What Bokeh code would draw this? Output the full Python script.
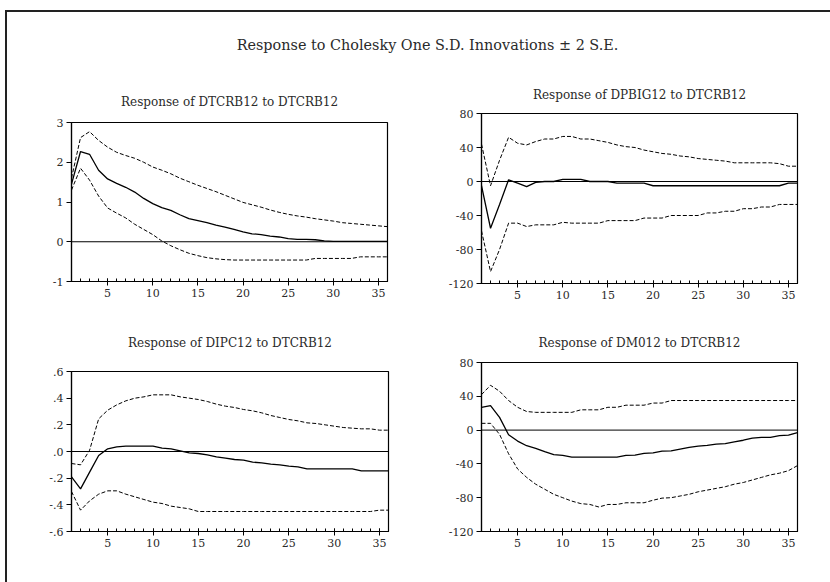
from bokeh.plotting import figure
from bokeh.models import (Range1d, FixedTicker, Span, Div, CustomJSTickFormatter,
                          InlineStyleSheet)
from bokeh.layouts import column, row
from bokeh.embed import file_html
from bokeh.resources import INLINE

periods = list(range(1, 37))
x_ticks = [5, 10, 15, 20, 25, 30, 35]

main_title = "Response to Cholesky One S.D. Innovations \u00b1 2 S.E."

# Panel 1: Response of DTCRB12 to DTCRB12
crb_title = "Response of DTCRB12 to DTCRB12"
crb_resp = [1.45, 2.27, 2.2, 1.8, 1.58, 1.47, 1.37, 1.25, 1.09, 0.96, 0.86, 0.79,
            0.68, 0.58, 0.53, 0.48, 0.42, 0.37, 0.31, 0.25, 0.2, 0.18, 0.14, 0.12,
            0.08, 0.06, 0.06, 0.05, 0.02, 0.01, 0.01, 0.01, 0.01, 0.01, 0.01, 0.01]
crb_upper = [1.6, 2.62, 2.77, 2.55, 2.38, 2.25, 2.17, 2.1, 2.0, 1.88, 1.8, 1.71,
             1.6, 1.51, 1.42, 1.34, 1.26, 1.17, 1.08, 0.99, 0.93, 0.87, 0.8, 0.74,
             0.69, 0.65, 0.62, 0.58, 0.55, 0.52, 0.48, 0.46, 0.44, 0.42, 0.4, 0.38]
crb_lower = [1.3, 1.85, 1.55, 1.15, 0.85, 0.72, 0.6, 0.44, 0.31, 0.18, 0.02, -0.1,
             -0.2, -0.29, -0.35, -0.4, -0.43, -0.45, -0.46, -0.46, -0.46, -0.46, -0.46, -0.46,
             -0.46, -0.46, -0.46, -0.42, -0.42, -0.42, -0.42, -0.42, -0.38, -0.38, -0.38, -0.38]
crb_yticks = [-1, 0, 1, 2, 3]

# Panel 2: Response of DPBIG12 to DTCRB12
pbig_title = "Response of DPBIG12 to DTCRB12"
pbig_resp = [-5, -55, -27, 2, -2, -6, -1, 0, 0, 2.5, 2.5, 2.5,
             0, 0, 0, -2, -2, -2, -2, -5, -5, -5, -5, -5,
             -5, -5, -5, -5, -5, -5, -5, -5, -5, -5, -2, -2]
pbig_upper = [44, -5, 25, 52, 45, 43, 47, 50, 50, 53, 53, 50,
              50, 48, 46, 43, 41, 40, 37, 35, 33, 32, 30, 29,
              27, 26, 25, 24, 22, 22, 22, 22, 22, 21, 18, 18]
pbig_lower = [-58, -106, -80, -49, -49, -53, -51, -51, -51, -48, -49, -49,
              -49, -49, -46, -46, -46, -46, -43, -43, -43, -40, -40, -40,
              -40, -37, -37, -35, -35, -32, -32, -30, -30, -27, -27, -27]
pbig_yticks = [-120, -80, -40, 0, 40, 80]

# Panel 3: Response of DIPC12 to DTCRB12
ipc_title = "Response of DIPC12 to DTCRB12"
ipc_resp = [-0.19, -0.28, -0.155, -0.03, 0.02, 0.035, 0.04, 0.04, 0.04, 0.04, 0.025, 0.02,
            0.005, -0.01, -0.015, -0.025, -0.04, -0.05, -0.06, -0.065, -0.08, -0.085, -0.095, -0.1,
            -0.11, -0.115, -0.13, -0.13, -0.13, -0.13, -0.13, -0.13, -0.145, -0.145, -0.145, -0.145]
ipc_upper = [-0.09, -0.1, 0.01, 0.245, 0.31, 0.35, 0.38, 0.4, 0.41, 0.425, 0.425, 0.425,
             0.41, 0.4, 0.39, 0.375, 0.355, 0.34, 0.33, 0.315, 0.305, 0.29, 0.27, 0.255,
             0.24, 0.23, 0.215, 0.21, 0.2, 0.19, 0.18, 0.175, 0.17, 0.17, 0.16, 0.16]
ipc_lower = [-0.3, -0.44, -0.37, -0.32, -0.295, -0.295, -0.32, -0.34, -0.36, -0.38, -0.39, -0.41,
             -0.42, -0.43, -0.45, -0.45, -0.45, -0.45, -0.45, -0.45, -0.45, -0.45, -0.45, -0.45,
             -0.45, -0.45, -0.45, -0.45, -0.45, -0.45, -0.45, -0.45, -0.45, -0.45, -0.44, -0.44]
ipc_yticks = [-0.6, -0.4, -0.2, 0.0, 0.2, 0.4, 0.6]

# Panel 4: Response of DM012 to DTCRB12
m0_title = "Response of DM012 to DTCRB12"
m0_resp = [27, 29, 15, -5.5, -13, -18.5, -21.5, -25.5, -29, -30, -32, -32,
           -32, -32, -32, -32, -30, -29.5, -27.5, -27, -25, -24.5, -22.5, -20.5,
           -19, -18, -16.5, -16, -14, -12, -9.5, -8.5, -8.5, -6.5, -6, -3]
m0_upper = [42, 53, 46, 35, 27, 22, 21, 21, 21, 21, 21, 24,
            24, 24, 27, 27, 29.5, 29.5, 29.5, 32, 32, 35, 35, 35,
            35, 35, 35, 35, 35, 35, 35, 35, 35, 35, 35, 35]
m0_lower = [8, 8, -5, -28, -46, -56, -64, -70, -76, -80, -84, -87,
            -88, -91, -88, -88, -86, -86, -86, -83, -80.5, -80, -78, -76,
            -73, -71, -69, -67, -64, -62, -59, -56, -53, -51, -48, -42]
m0_yticks = [-120, -80, -40, 0, 40, 80]

FONT = "DejaVu Serif"
TXT = "#2a2a2a"


def make_panel(title, resp, upper, lower, ylo, yhi, yticks, width, height,
               bl, br, bt, bb, standoff, decimal=False):
    p = figure(width=width, height=height, x_range=Range1d(1, 36),
               y_range=Range1d(ylo, yhi), output_backend="svg",
               toolbar_location=None, title=title,
               min_border_left=bl, min_border_right=br,
               min_border_top=bt, min_border_bottom=bb)
    p.title.align = "center"
    p.title.text_font = FONT
    p.title.text_font_style = "normal"
    p.title.text_font_size = "12px"
    p.title.text_color = TXT
    p.title.standoff = standoff
    p.xgrid.visible = False
    p.ygrid.visible = False
    p.outline_line_color = "black"
    p.outline_line_width = 1.2
    p.outline_line_alpha = 1
    p.background_fill_color = "white"
    p.border_fill_color = "white"

    p.xaxis.ticker = FixedTicker(ticks=x_ticks, minor_ticks=periods)
    p.xaxis.major_tick_in = 3
    p.xaxis.major_tick_out = 4
    p.xaxis.minor_tick_in = 3
    p.xaxis.minor_tick_out = 0
    p.yaxis.ticker = FixedTicker(ticks=yticks, minor_ticks=[])
    p.yaxis.major_tick_in = 0
    p.yaxis.major_tick_out = 5
    p.yaxis.minor_tick_line_color = None
    for ax in (p.xaxis[0], p.yaxis[0]):
        ax.axis_line_color = "black"
        ax.axis_line_width = 1.2
        ax.major_tick_line_color = "black"
        ax.major_label_text_font = FONT
        ax.major_label_text_font_size = "11px"
        ax.major_label_text_color = TXT
        ax.major_label_standoff = 3
    p.xaxis.minor_tick_line_color = "black"
    p.xaxis.formatter = CustomJSTickFormatter(code="return String(tick);")
    if decimal:
        p.yaxis.formatter = CustomJSTickFormatter(
            code="var s = tick.toFixed(1); return s.replace('0.', '.');")
    else:
        p.yaxis.formatter = CustomJSTickFormatter(code="return String(tick);")

    p.add_layout(Span(location=0, dimension="width", line_color="black",
                      line_width=1))
    p.line(periods, upper, line_color="black", line_width=1, line_dash="4 2")
    p.line(periods, lower, line_color="black", line_width=1, line_dash="4 2")
    p.line(periods, resp, line_color="black", line_width=1.3)
    return p


p1 = make_panel(crb_title, crb_resp, crb_upper, crb_lower, -1, 3, crb_yticks,
                408, 238, 64, 28, 50, 29, 28)
p2 = make_panel(pbig_title, pbig_resp, pbig_upper, pbig_lower, -120, 80, pbig_yticks,
                415, 238, 66, 33, 41, 27, 24)
p3 = make_panel(ipc_title, ipc_resp, ipc_upper, ipc_lower, -0.6, 0.6, ipc_yticks,
                408, 272, 64, 27, 61, 51, 44, decimal=True)
p4 = make_panel(m0_title, m0_resp, m0_upper, m0_lower, -120, 80, m0_yticks,
                415, 272, 66, 33, 52, 51, 26)

title_div = Div(
    text=('<div style="width:823px;height:60px;box-sizing:border-box;'
          'padding-left:18px;padding-top:24px;line-height:18px;text-align:center;'
          "font-family:'DejaVu Serif';font-size:14.4px;color:#2a2a2a;\">"
          + main_title + '</div>'),
    width=823, height=60, margin=0)

sheet = InlineStyleSheet(css=":host { margin-left: 5px; margin-top: 10px; "
                             "border-left: 2px solid #222; border-top: 2px solid #222; }")
layout = column(title_div,
                row(column(p1), column(p2)),
                row(column(p3), column(p4)),
                stylesheets=[sheet])

open("out.html", "w").write(file_html(layout, INLINE))
